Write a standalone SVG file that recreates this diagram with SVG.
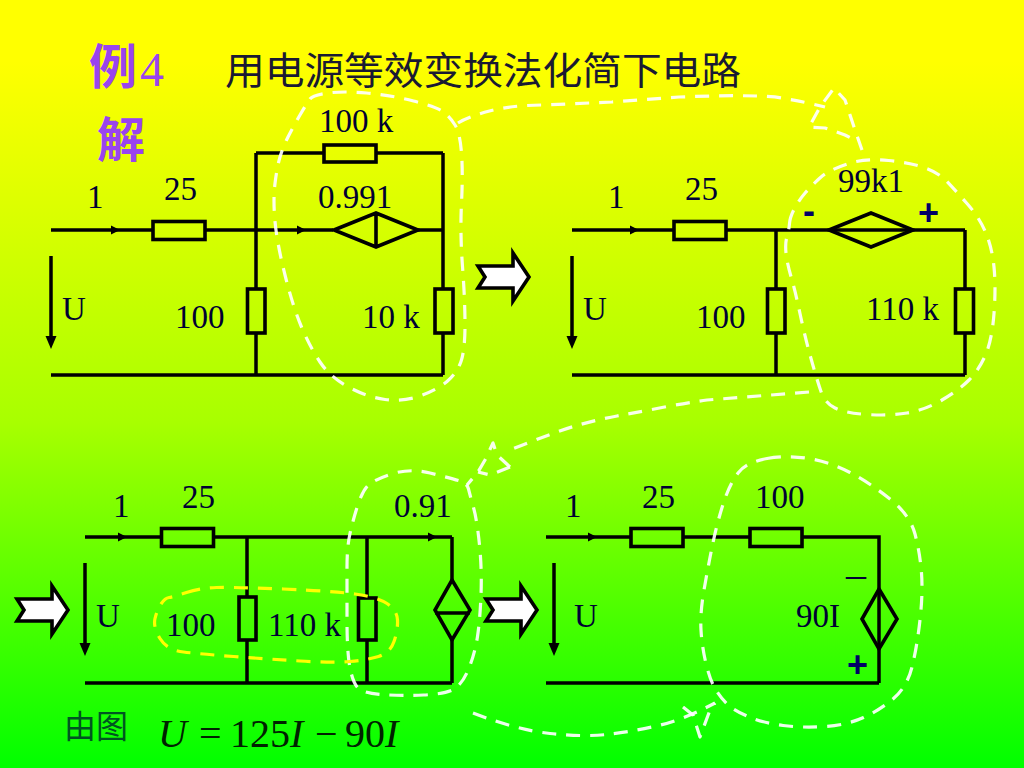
<svg xmlns="http://www.w3.org/2000/svg" xmlns:xlink="http://www.w3.org/1999/xlink" width="1024" height="768" viewBox="0 0 1024 768">
<style>
.w{fill:none;stroke:#000;stroke-width:3.5;stroke-linecap:butt}
.r{fill:none;stroke:#000;stroke-width:3.6}
.t{font-family:"Liberation Serif","Noto Sans CJK SC",serif;font-size:33px;fill:#000033}
.cn{font-family:"Noto Sans CJK SC","Noto Sans CJK JP",sans-serif;fill:#1a1a33}
.p{font-family:"Noto Sans CJK SC","Liberation Serif",sans-serif;font-weight:700;font-size:48px;fill:#9944ee}
.s{font-family:"Liberation Sans",sans-serif;font-weight:700;font-size:36px;fill:#000066}
.i{font-family:"Liberation Serif",serif;font-size:40px;fill:#002200}
.d{fill:none;stroke:#fff;stroke-width:3.2;stroke-dasharray:14 10;stroke-linejoin:round;opacity:.92}
.y{fill:none;stroke:#ffff00;stroke-width:3.2;stroke-dasharray:14 10;stroke-linejoin:round}
.b{fill:#fff;stroke:#000;stroke-width:3.6;stroke-linejoin:miter}
</style>
<defs>
<linearGradient id="bg" x1="0" y1="0" x2="0" y2="1">
<stop offset="0" stop-color="#ffff00"/><stop offset="0.08" stop-color="#ffff00"/><stop offset="0.55" stop-color="#a8ff00"/><stop offset="1" stop-color="#00ff00"/>
</linearGradient>
<polygon id="ah" points="-8,-4.500 1,0 -8,4.500" fill="#000"/>
<polygon id="ad" points="-5.500,-13 5.500,-13 0,0" fill="#000"/>
<path id="block" class="b" d="M1,-11 H36 V-24 L52,0 L36,24 V11 H1 L8,0 Z"/>
</defs>
<rect width="1024" height="768" fill="url(#bg)"/>
<g id="title">
<text class="p" x="89" y="84">例</text><text x="140" y="86" font-family="Liberation Serif,serif" font-size="48" fill="#9944ee">4</text>
<text class="cn" x="225" y="84" font-size="38" textLength="516" lengthAdjust="spacingAndGlyphs">用电源等效变换法化简下电路</text>
<text class="p" x="97" y="157">解</text>
</g>
<g id="connectors">
<path class="w" d="M51,230 H153 M205,230 H333 M418,230 H443 M256,153 H324 M376,153 H443 M256,153 V289 M256,333 V375 M443,153 V289 M443,333 V375 M51,375 H443"/>
<path class="w" d="M51,256 V338"/>
<use xlink:href="#ad" href="#ad" x="51" y="349"/>
<use xlink:href="#ah" href="#ah" x="119" y="230"/><use xlink:href="#ah" href="#ah" x="305" y="230"/>
<path class="w" d="M572,230 H674 M726,230 H965 M776,230 V289 M776,333 V375 M965,230 V289 M965,333 V375 M572,375 H965"/>
<path class="w" d="M572,256 V338"/>
<use xlink:href="#ad" href="#ad" x="572" y="349"/>
<use xlink:href="#ah" href="#ah" x="638" y="230"/>
<path class="w" d="M85,537 H161 M214,537 H452 M247,537 V597 M247,640 V683 M367,537 V598 M367,640 V683 M452,537 V580 M452,640 V683 M85,683 H452"/>
<path class="w" d="M85,563 V645"/>
<use xlink:href="#ad" href="#ad" x="85" y="656"/>
<use xlink:href="#ah" href="#ah" x="126" y="537"/><use xlink:href="#ah" href="#ah" x="436" y="537"/>
<path class="w" d="M546,537 H631 M683,537 H750 M802,537 H879 V683 M546,683 H879"/>
<path class="w" d="M554,563 V645"/>
<use xlink:href="#ad" href="#ad" x="554" y="656"/>
<use xlink:href="#ah" href="#ah" x="596" y="537"/>
</g>
<g id="c1-nodes">
<rect id="c1-r25" class="r" x="153" y="221.500" width="52" height="18"/>
<rect id="c1-r100k" class="r" x="324" y="145" width="52" height="17"/>
<rect id="c1-r100" class="r" x="247.500" y="289" width="17.500" height="44"/>
<rect id="c1-r10k" class="r" x="435" y="289" width="18" height="44"/>
<g id="c1-src"><path class="r" d="M334,230 L376,213 L418,230 L376,247 Z M376,213 V247"/></g>
</g>
<g id="c2-nodes">
<rect id="c2-r25" class="r" x="674" y="221.500" width="52" height="18"/>
<rect id="c2-r100" class="r" x="767.500" y="289" width="17.500" height="44"/>
<rect id="c2-r110k" class="r" x="955.500" y="289" width="18" height="44"/>
<g id="c2-src"><path class="r" d="M829,230 L871,213 L913,230 L871,247 Z"/></g>
</g>
<g id="c3-nodes">
<rect id="c3-r25" class="r" x="161.500" y="528.500" width="52" height="18"/>
<rect id="c3-r100" class="r" x="239" y="597" width="17" height="43"/>
<rect id="c3-r110k" class="r" x="358.500" y="598" width="17.500" height="42"/>
<g id="c3-src"><path class="r" d="M452,580 L470,610 L452,640 L435,610 Z M435,613 H470"/></g>
</g>
<g id="c4-nodes">
<rect id="c4-r25" class="r" x="631" y="528.500" width="52" height="18"/>
<rect id="c4-r100" class="r" x="750" y="528.500" width="52" height="18"/>
<g id="c4-src"><path class="r" d="M879,589 L897,619 L879,649 L862,619 Z"/></g>
</g>
<g id="block-arrows">
<use xlink:href="#block" href="#block" x="477" y="277"/>
<use xlink:href="#block" href="#block" x="16" y="610"/>
<use xlink:href="#block" href="#block" x="485" y="610"/>
</g>
<g id="labels">
<text class="t" x="87" y="208">1</text><text class="t" x="164" y="200">25</text><text class="t" x="319" y="132">100 k</text><text class="t" x="318" y="208">0.991</text><text class="t" x="62" y="320">U</text><text class="t" x="175" y="328">100</text><text class="t" x="362" y="328">10 k</text>
<text class="t" x="608" y="208">1</text><text class="t" x="685" y="200">25</text><text class="t" x="838" y="192">99k1</text><text class="s" x="803" y="223">-</text><text class="s" x="918" y="225">+</text><text class="t" x="583" y="320">U</text><text class="t" x="696" y="328">100</text><text class="t" x="866" y="320">110 k</text>
<text class="t" x="113" y="517">1</text><text class="t" x="182" y="508">25</text><text class="t" x="394" y="517">0.91</text><text class="t" x="96" y="627">U</text><text class="t" x="166" y="636">100</text><text class="t" x="268" y="636">110 k</text>
<text class="t" x="565" y="517">1</text><text class="t" x="642" y="508">25</text><text class="t" x="755" y="508">100</text><text class="t" x="574" y="627">U</text><text class="t" x="796" y="627">90I</text><text class="t" x="846" y="587" style="font-size:40px">–</text><text class="s" x="847" y="677">+</text>
<text class="cn" x="64" y="738" font-size="32" style="fill:#005522">由图</text>
<text class="i" y="747"><tspan x="158" font-style="italic">U</tspan><tspan x="199">=</tspan><tspan x="230">125</tspan><tspan x="290" font-style="italic">I</tspan><tspan x="315">−</tspan><tspan x="345">90</tspan><tspan x="385" font-style="italic">I</tspan></text>
</g>
<g id="dashed-outlines">
<path class="d" d="M310,99 Q313,95 328,93 Q343,91 366.500,93 Q390,95 413.500,101 Q437,107 443.500,112 Q450,117 455,125 Q460,133 461.500,153 Q463,173 461.500,203 Q460,233 462.500,266.500 Q465,300 465,325 Q465,350 461,361.500 Q457,373 447,381.500 Q437,390 420,396 Q403,402 385,399.500 Q367,397 348.500,387 Q330,377 320,362 Q310,347 301.500,327 Q293,307 285,275 Q277,243 275,221.500 Q273,200 275,183.500 Q277,167 280,157 Q283,147 288,137 Q293,127 300,115 Q307,103 310,99 Z"/>
<path class="d" d="M458,123 Q467,117 489.500,111 Q512,105 545,105 L612,102 L679,97 Q759,94 782,98 Q805,102 825,107"/>
<polyline class="d" points="862,150 855,130 845,100 834,88 820,107 809,127 825,128 845,135 859,142"/>
<path class="d" d="M789.500,223.500 Q790,217 794.500,208.500 Q799,200 805.500,192.500 Q812,185 820.500,177.500 Q829,170 847,164 Q865,158 888.500,160.500 Q912,163 925.500,168 Q939,173 947,181.500 Q955,190 967,203.500 Q979,217 985.500,232 Q992,247 994,267 Q996,287 994,313.500 Q992,340 985.500,355 Q979,370 969,380 Q959,390 942,400 Q925,410 907,413 Q889,416 867,414.500 Q845,413 835,408 Q825,403 821,391.500 Q817,380 811,358.500 Q805,337 800,313.500 Q795,290 791,276.500 Q787,263 786,253 Q785,243 787,236.500 Q789,230 789.500,223.500 Z"/>
<path class="d" d="M809,392 L707,400 Q685,403 662,407.500 Q639,412 617,416 Q595,420 573.500,426.500 Q552,433 510,450"/>
<polyline class="d" points="510,467 497,455 493,443 485,460 478,472 467,485"/>
<polyline class="d" points="510,467 490,475 478,472"/>
<path class="d" d="M458.500,480.500 Q450,478 430,473 Q410,468 391.500,474 Q373,480 367.500,486 Q362,492 357.500,506 Q353,520 350,533.500 Q347,547 347,567 Q347,587 347,620 Q347,653 350,668 Q353,683 358,688 Q363,693 381.500,694.500 Q400,696 423.500,695 Q447,694 455,688.500 Q463,683 469,668 Q475,653 477.500,636.500 Q480,620 481,595 Q482,570 479.500,545 Q477,520 473.500,507.500 Q470,495 468.500,489 Q467,483 458.500,480.500 Z"/>
<path class="y" d="M186.500,592.500 Q200,588 216.500,587.500 Q233,587 283,589 Q333,591 355,594 Q377,597 387,603.500 Q397,610 397.500,620 Q398,630 394,641.500 Q390,653 378.500,656.500 Q367,660 350,661.500 Q333,663 300,661 Q267,659 233.500,656.500 Q200,654 183.500,652 Q167,650 160,638.500 Q153,627 155,618.500 Q157,610 161,604 Q165,598 169,597.500 Q173,597 186.500,592.500 Z"/>
<path class="d" d="M767,458.500 Q787,455 808.500,458.500 Q830,462 850,472.500 Q870,483 890,499 Q910,515 915,534 Q920,553 921.500,573 Q923,593 920,620 Q917,647 912,667 Q907,687 893.500,698.500 Q880,710 863.500,717.500 Q847,725 825,726.500 Q803,728 783,725.500 Q763,723 748,716.500 Q733,710 726.500,703.500 Q720,697 715,688.500 Q710,680 706,663.500 Q702,647 701,630 Q700,613 704,590 Q708,567 712.500,545 Q717,523 723.500,503 Q730,483 738.500,472.500 Q747,462 767,458.500 Z"/>
<path class="d" d="M473,713 Q517,730 550,733.500 Q583,737 606.500,734.500 Q630,732 656.500,726 Q683,720 715,703"/>
<polyline class="d" points="683,707 693,715 700,737 710,710 715,703"/>
</g>
</svg>
